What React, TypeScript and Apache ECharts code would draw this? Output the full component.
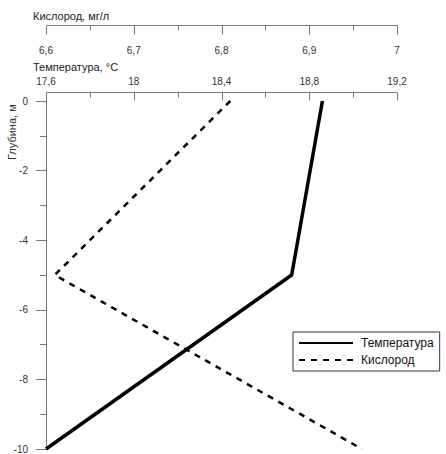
import React, { useEffect, useRef } from "react";
import * as echarts from "echarts";

const depths = [0, -5, -10];
const temperature = [18.86, 18.72, 17.6];
const oxygen = [6.81, 6.61, 6.96];

const tempScale = { min: 17.6, max: 19.2, major: 0.4, minor: 0.2 };
const oxyScale = { min: 6.6, max: 7, major: 0.1, minor: 0.05 };

const FONT = "'Liberation Sans', Arial, sans-serif";
const AX = "#7a7a7a";
const TXT = "#333";

const fmt = (v: number) => String(+v.toFixed(2)).replace(".", ",");

function topAxis(s: any, offset: number, label: any) {
  return {
    type: "value",
    position: "top",
    min: s.min,
    max: s.max,
    interval: s.major,
    offset,
    axisLine: { show: false, onZero: false },
    axisTick: { show: false },
    axisLabel: { fontSize: 10, color: TXT, fontFamily: FONT, formatter: fmt, ...label },
    splitLine: { show: false },
  };
}

export default function App() {
  const ref = useRef<HTMLDivElement>(null);
  useEffect(() => {
    if (!ref.current) return;
    const chart = echarts.init(ref.current, null, { renderer: "svg" });
    chart.setOption({
      animation: false,
      grid: { left: 46, right: 49, top: 101, bottom: 3 },
      xAxis: [topAxis(tempScale, 9, { margin: 6 }), topAxis(oxyScale, 76, { inside: true, margin: 20 })],
      yAxis: {
        type: "value",
        min: -10,
        max: 0,
        interval: 2,
        axisLine: { show: true, onZero: false, lineStyle: { color: AX, width: 1 } },
        axisTick: { show: true, inside: false, length: 10, lineStyle: { color: AX } },
        minorTick: { show: true, splitNumber: 2, length: 6, lineStyle: { color: AX } },
        splitLine: { show: false },
        axisLabel: { margin: 18, fontSize: 10, color: TXT, fontFamily: FONT, formatter: (v: number) => String(v) },
      },
      legend: {
        left: 293,
        top: 332,
        orient: "vertical",
        itemWidth: 54,
        itemHeight: 14,
        itemGap: 5,
        padding: [5, 6, 5, 5],
        borderColor: "#333",
        borderWidth: 1,
        itemStyle: { opacity: 0 },
        textStyle: { fontSize: 12, color: "#111", fontFamily: FONT, padding: [0, 0, 0, 3] },
        data: ["Температура", "Кислород"],
      },
      series: [
        {
          name: "Температура",
          type: "line",
          xAxisIndex: 0,
          symbol: "none",
          lineStyle: { color: "#000", width: 3.5 },
          itemStyle: { color: "#000" },
          data: depths.map((d, i) => [temperature[i], d]),
        },
        {
          name: "Кислород",
          type: "line",
          xAxisIndex: 1,
          symbol: "none",
          lineStyle: { color: "#000", width: 2.5, type: [6, 6] },
          itemStyle: { color: "#000" },
          data: depths.map((d, i) => [oxygen[i], d]),
        },
      ],
    });

    const xPix = (idx: number, v: number) => Math.round(chart.convertToPixel({ xAxisIndex: idx }, v) as number) + 0.5;
    const gridTop = Math.round(chart.convertToPixel({ yAxisIndex: 0 }, 0) as number);
    const gridLeft = xPix(0, tempScale.min);
    const els: any[] = [];
    const ln = (x1: number, y1: number, x2: number, y2: number) =>
      els.push({ type: "line", silent: true, shape: { x1, y1, x2, y2 }, style: { stroke: AX, lineWidth: 1 } });
    const addAxis = (idx: number, s: any, y: number, majorLen: number) => {
      ln(xPix(idx, s.min), y, xPix(idx, s.max), y);
      const n = Math.round((s.max - s.min) / s.minor);
      const per = Math.round(s.major / s.minor);
      for (let k = 0; k <= n; k++) {
        const x = xPix(idx, s.min + k * s.minor);
        ln(x, y, x, y + (k % per === 0 ? majorLen : 5));
      }
    };
    const tempY = gridTop - 9 + 0.5;
    const oxyY = gridTop - 76 + 0.5;
    addAxis(0, tempScale, tempY, 8);
    addAxis(1, oxyScale, oxyY, 9);
    ln(gridLeft, tempY, gridLeft, gridTop);

    chart.setOption({
      graphic: {
        elements: [
          ...els,
          { type: "text", left: 33, top: 10, style: { text: "Кислород, мг/л", fontSize: 11, fill: "#222", fontFamily: FONT } },
          { type: "text", left: 33, top: 61, style: { text: "Температура, °C", fontSize: 11, fill: "#222", fontFamily: FONT } },
          {
            type: "text",
            x: 6,
            y: 160,
            rotation: Math.PI / 2,
            style: { text: "Глубина, м", fontSize: 11, fill: "#333", fontFamily: FONT, textAlign: "left", textVerticalAlign: "top" },
          },
        ],
      },
    });
    return () => chart.dispose();
  }, []);
  return <div ref={ref} style={{ width: 446, height: 454, position: "absolute", left: 0, top: 0 }} />;
}
